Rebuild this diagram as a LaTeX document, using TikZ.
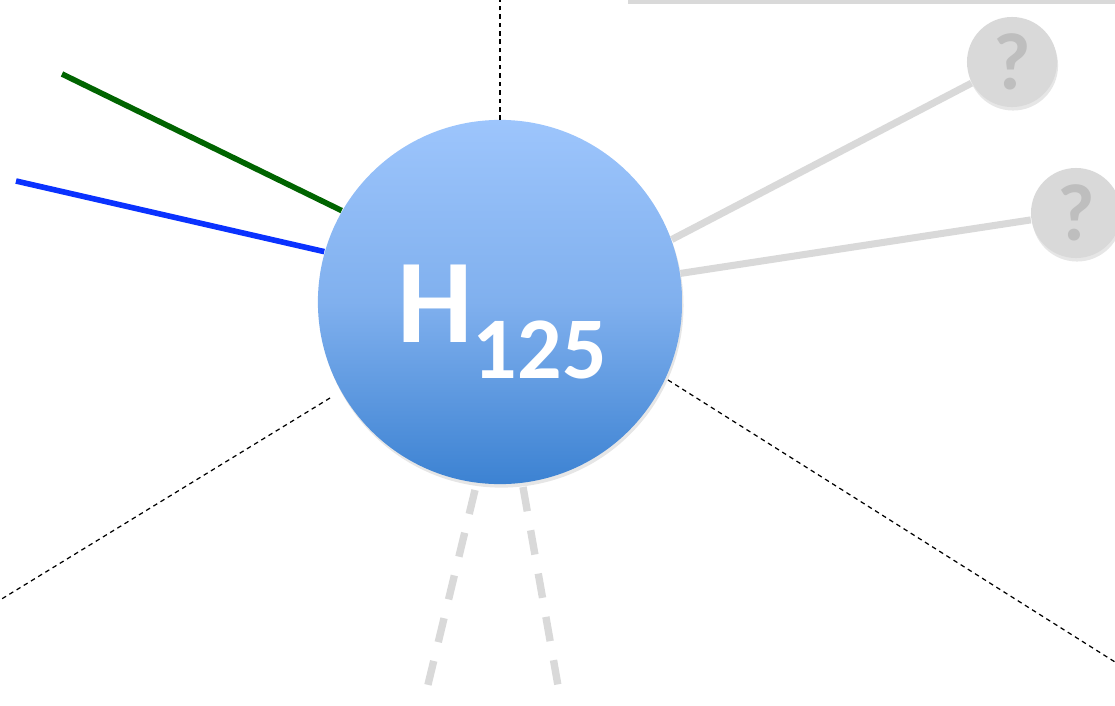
\documentclass[tikz,border=0pt]{standalone}
\usepackage{fontspec}
\setmainfont{Carlito}
\usetikzlibrary{shadows}
\definecolor{hgreen}{RGB}{0,100,0}
\definecolor{hblue}{RGB}{10,50,255}
\definecolor{qfill}{RGB}{217,217,217}
\definecolor{qtext}{RGB}{190,190,190}
\definecolor{htop}{RGB}{157,197,252}
\definecolor{hmid}{RGB}{128,176,238}
\definecolor{hbot}{RGB}{60,130,210}
\begin{document}
\begin{tikzpicture}[x=0.01cm,y=-0.01cm,
  thin dash/.style={black,line width=0.35pt,dash pattern=on 1.3pt off 1.1pt},
  gray link/.style={qfill,line width=2pt},
  gray dash/.style={qfill,line width=2.1pt,dash pattern=on 7pt off 5.5pt},
  qnode/.style={circle,fill=qfill,minimum size=0.9cm,inner sep=0pt,
    drop shadow={shadow xshift=0.3pt,shadow yshift=-1pt,opacity=0.2},
    text=qtext,font=\bfseries\fontsize{23}{23}\selectfont},
]
\useasboundingbox (0,0) rectangle (1115,706);
% coordinates
\coordinate (topend) at (500,0);
\coordinate (topstart) at (500,120);
\coordinate (greenend) at (62,74);
\coordinate (blueend) at (16,181);
\coordinate (dlstart) at (330,398);
\coordinate (dlend) at (0,600);
\coordinate (drstart) at (668,380);
\coordinate (drend) at (1115,662);
\coordinate (bl1) at (475,490);
\coordinate (bl2) at (425,697);
\coordinate (br1) at (523,487);
\coordinate (br2) at (560,697);
\coordinate (rule1) at (628,2);
\coordinate (rule2) at (1115,2);
% top rule
\draw[qfill,line width=1pt] (rule1) -- (rule2);
% H node
\node[circle,minimum size=3.64cm,inner sep=0pt,
  top color=htop,bottom color=hbot,middle color=hmid,
  drop shadow={shadow xshift=0.4pt,shadow yshift=-1pt,opacity=0.2}] (H) at (500,302) {};
\node[text=white,font=\bfseries] (Hlabel) at (502,322)
  {\fontsize{34}{34}\selectfont H\raisebox{-0.3em}{\fontsize{25}{25}\selectfont 125}};
% question nodes
\node[qnode] (q1) at (1012,62) {?};
\node[qnode] (q2) at (1076,213) {?};
% connectors
\draw[thin dash] (topstart) -- (topend);
\draw[hgreen,line width=1.6pt] (H.150) -- (greenend);
\draw[hblue,line width=1.6pt] (H.164) -- (blueend);
\draw[gray link] (H.20) -- (q1);
\draw[gray link] (H.9) -- (q2);
\draw[thin dash] (dlstart) -- (dlend);
\draw[thin dash] (drstart) -- (drend);
\draw[gray dash] (bl1) -- (bl2);
\draw[gray dash] (br1) -- (br2);
\end{tikzpicture}
\end{document}
